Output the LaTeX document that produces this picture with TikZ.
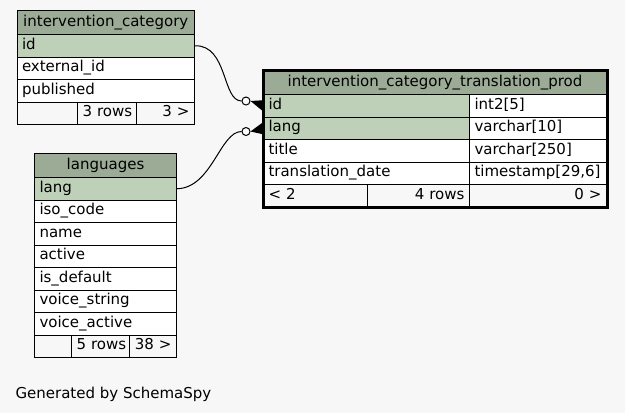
\documentclass[tikz,border=0pt]{standalone}
\usepackage{fontspec}
\setmainfont{DejaVu Sans}
\definecolor{headgreen}{HTML}{9BAB96}
\definecolor{keygreen}{HTML}{BED1B8}
\definecolor{bggray}{HTML}{F7F7F7}

\begin{document}
\begin{tikzpicture}[x=1pt,y=-1pt,
  font=\fontsize{15pt}{18pt}\selectfont,
  cell/.style={draw,line width=1pt,fill=white,anchor=north west,inner xsep=5pt,inner ysep=0pt,
    minimum height=22.5pt,text height=10.5pt,text depth=3.5pt,align=left},
  key/.style={cell,fill=keygreen},
  head/.style={cell,fill=headgreen,align=center,minimum height=24pt},
  foot/.style={cell,fill=bggray,align=right},
  edge/.style={line width=1pt},
  odot/.style={circle,draw,line width=1pt,fill=white,minimum size=8pt,inner sep=0pt}]
  \useasboundingbox[fill=bggray] (0,0) rectangle (625,413);

  % intervention_category
  \node[head,text width=167.5pt] (ic) at (16.5,10) {intervention\_category};
  \node[key,text width=167.5pt] (ic-id) at (16.5,34) {id};
  \foreach \c [count=\i] in {external\_id,published}
    \node[cell,text width=167.5pt] (ic-\i) at (16.5,34+22.5*\i) {\c};
  \node[foot,text width=50.5pt] (ic-f1) at (16.5,101.5) {};
  \node[foot,text width=49pt] (ic-f2) at (77,101.5) {3~rows};
  \node[foot,text width=48pt] (ic-f3) at (136,101.5) {3~>};

  % languages
  \node[head,text width=132pt] (lng) at (34,153) {languages};
  \node[key,text width=132pt] (lng-lang) at (34,177) {lang};
  \foreach \c [count=\i] in {iso\_code,name,active,is\_default,voice\_string,voice\_active}
    \node[cell,text width=132pt] (lng-\i) at (34,177+22.5*\i) {\c};
  \node[foot,text width=27pt] (lng-f1) at (34,334.5) {};
  \node[foot,text width=48pt] (lng-f2) at (71,334.5) {5~rows};
  \node[foot,text width=37pt] (lng-f3) at (129,334.5) {38~>};

  % intervention_category_translation_prod
  \node[head,text width=333pt] (ict) at (263,70) {intervention\_category\_translation\_prod};
  \node[key,text width=196pt] (ict-id) at (263,94) {id};
  \node[cell,text width=127pt] (ict-idt) at (469,94) {int2[5]};
  \node[key,text width=196pt] (ict-lang) at (263,116.5) {lang};
  \node[cell,text width=127pt] (ict-langt) at (469,116.5) {varchar[10]};
  \foreach \n/\t [count=\i] in {title/{varchar[250]},translation\_date/{timestamp[29,6]}} {
    \node[cell,text width=196pt] (ict-\i) at (263,116.5+22.5*\i) {\n};
    \node[cell,text width=127pt] (ict-\i t) at (469,116.5+22.5*\i) {\t};
  }
  \node[foot,text width=94pt,align=left] (ict-f1) at (263,184) {<~2};
  \node[foot,text width=92pt] (ict-f2) at (367,184) {4~rows};
  \node[foot,text width=127pt] (ict-f3) at (469,184) {0~>};
  \draw[line width=3pt] (ict.north west) rectangle (ict-f3.south east);

  % relationships
  \node[odot] (o1) at (246,101) {};
  \node[odot] (o2) at (246,131.5) {};
  \draw[edge] (ic-id.east) .. controls (228,45) and (222,101) .. (o1.west);
  \draw[edge] (lng-lang.east) .. controls (212,188) and (220,131.5) .. (o2.west);
  \fill (o1.east) -- ([yshift=5.5pt]ict-id.west) -- ([yshift=-5.5pt]ict-id.west) -- cycle;
  \fill (o2.east) -- ([yshift=6pt]ict-lang.west) -- ([yshift=-6pt]ict-lang.west) -- cycle;

  \node[anchor=base west] (gen) at (12,398) {Generated by SchemaSpy};
\end{tikzpicture}
\end{document}
